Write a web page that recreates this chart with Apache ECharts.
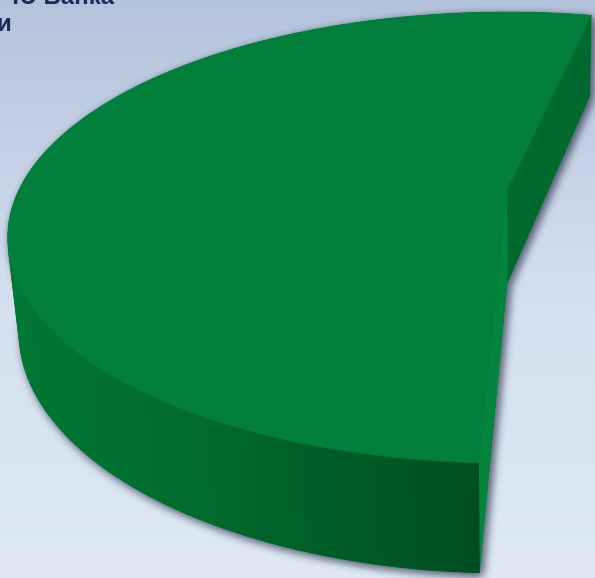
<!DOCTYPE html>
<html>
<head>
<meta charset="utf-8">
<script src="https://cdn.jsdelivr.net/npm/echarts@6.0.0/dist/echarts.min.js"></script>
<style>
html,body{margin:0;padding:0;width:595px;height:578px;overflow:hidden;background:#c8d5e8}
#chart{width:595px;height:578px}
</style>
</head>
<body>
<div id="chart"></div>
<script>
// ---------- data ----------
const sliceNames  = ['Доля Банка', 'Прочие'];
const sliceValues = [52.6, 47.4];
const titleLines  = ['Ю Банка', 'и'];

// ---------- style / camera (not data) ----------
const CAM = { ox: 507, oy: 190, f: 2078, D: 4.257, sinP: 0.4416 };
CAM.cosP = Math.sqrt(1 - CAM.sinP * CAM.sinP);
const RIM = 1, THICK = 0.218, START_ANGLE = 78;
const EXPLODE = [0, 0.8];
const SLICE_STYLE = [
  { top: '#017f3b', startWall: '#006a2e', endWall: '#04843d', wall: [0, 124, 52] },
  { top: '#1f5fa8', startWall: '#174b86', endWall: '#1a5597', wall: [24, 84, 150] }
];
// shading factor of the outer wall by angle (deg)
const SHADE = [[0,0.72],[90,0.8],[180,1.0],[215,0.94],[240,0.86],[255,0.73],[270,0.6],[300,0.6],[360,0.72]];

function shadeAt(t) {
  t = ((t % 360) + 360) % 360;
  for (let k = 0; k < SHADE.length - 1; k++) {
    const [t0, s0] = SHADE[k], [t1, s1] = SHADE[k + 1];
    if (t >= t0 && t <= t1) return s0 + (s1 - s0) * (t - t0) / (t1 - t0);
  }
  return 1;
}
function rgb(c, s) {
  return 'rgb(' + c.map(v => Math.max(0, Math.min(255, Math.round(v * s)))).join(',') + ')';
}
function proj(X, Y, Z) {
  const depth = CAM.D - Y * CAM.sinP - Z * CAM.cosP;
  const ys = Y * CAM.cosP - Z * CAM.sinP;
  return [CAM.ox + CAM.f * X / depth, CAM.oy - CAM.f * ys / depth];
}
const camPos = [0, CAM.D * CAM.sinP, CAM.D * CAM.cosP];
function facing(n, p) {
  return n[0] * (camPos[0] - p[0]) + n[1] * (camPos[1] - p[1]) + n[2] * (camPos[2] - p[2]) > 0;
}

function renderItem(params, api) {
  const i = params.dataIndex;
  const total = sliceValues.reduce((a, b) => a + b, 0);
  let a0 = START_ANGLE;
  for (let k = 0; k < i; k++) a0 += sliceValues[k] / total * 360;
  const a1 = a0 + api.value(0) / total * 360;
  const midR = (a0 + a1) / 2 * Math.PI / 180;
  const ex = EXPLODE[i] || 0;
  const off = [ex * Math.cos(midR), -ex * Math.sin(midR)];
  const st = SLICE_STYLE[i];
  const rad = t => t * Math.PI / 180;
  const P = (t, y) => proj(off[0] + RIM * Math.cos(rad(t)), y, off[1] - RIM * Math.sin(rad(t)));
  const Ct = proj(off[0], 0, off[1]);
  const Cb = proj(off[0], -THICK, off[1]);

  const n = Math.max(2, Math.ceil(a1 - a0));
  const arcTop = [], arcBot = [];
  for (let k = 0; k <= n; k++) {
    const t = a0 + (a1 - a0) * k / n;
    arcTop.push(P(t, 0));
    arcBot.push(P(t, -THICK));
  }
  const shadowStyle = { fill: st.top, shadowBlur: 10, shadowColor: 'rgba(40,50,75,0.55)', shadowOffsetX: 3, shadowOffsetY: 3 };
  const children = [];
  // shadow pass (silhouette)
  children.push({ type: 'polygon', shape: { points: [Cb].concat(arcBot) }, style: shadowStyle, silent: true });
  children.push({ type: 'polygon', shape: { points: arcTop.concat(arcBot.slice().reverse()) }, style: shadowStyle, silent: true });
  children.push({ type: 'polygon', shape: { points: [Ct, P(a0, 0), P(a0, -THICK), Cb] }, style: shadowStyle, silent: true });
  children.push({ type: 'polygon', shape: { points: [Ct, P(a1, 0), P(a1, -THICK), Cb] }, style: shadowStyle, silent: true });
  children.push({ type: 'polygon', shape: { points: [Ct].concat(arcTop) }, style: shadowStyle, silent: true });

  // radial walls
  const cMid = [off[0], -THICK / 2, off[1]];
  const nStart = [Math.cos(rad(a0 - 90)), 0, -Math.sin(rad(a0 - 90))];
  const nEnd = [Math.cos(rad(a1 + 90)), 0, -Math.sin(rad(a1 + 90))];
  if (facing(nStart, cMid)) {
    children.push({ type: 'polygon', shape: { points: [Ct, P(a0, 0), P(a0, -THICK), Cb] },
      style: { fill: st.startWall, stroke: st.startWall, lineWidth: 0.5 }, silent: true });
  }
  if (facing(nEnd, cMid)) {
    children.push({ type: 'polygon', shape: { points: [Ct, P(a1, 0), P(a1, -THICK), Cb] },
      style: { fill: st.endWall, stroke: st.endWall, lineWidth: 0.5 }, silent: true });
  }
  // outer wall, segment by segment with shading
  const step = 1.5;
  for (let t = a0; t < a1; t += step) {
    const t2 = Math.min(a1, t + step);
    const tm = (t + t2) / 2;
    const nrm = [Math.cos(rad(tm)), 0, -Math.sin(rad(tm))];
    const pm = [off[0] + RIM * nrm[0], -THICK / 2, off[1] + RIM * nrm[2]];
    if (!facing(nrm, pm)) continue;
    const col = rgb(st.wall, shadeAt(tm));
    children.push({ type: 'polygon', shape: { points: [P(t, 0), P(t2, 0), P(t2, -THICK), P(t, -THICK)] },
      style: { fill: col, stroke: col, lineWidth: 0.8 }, silent: true });
  }
  // top face
  children.push({ type: 'polygon', shape: { points: [Ct].concat(arcTop) },
    style: { fill: st.top, stroke: st.top, lineWidth: 0.5 }, silent: true });
  return { type: 'group', children: children };
}

const chart = echarts.init(document.getElementById('chart'), null, { renderer: 'canvas', width: 595, height: 578 });
chart.setOption({
  animation: false,
  graphic: [
    { type: 'rect', z: -100, silent: true, shape: { x: 0, y: 0, width: 595, height: 578 },
      style: { fill: { type: 'linear', x: 0, y: 0, x2: 0, y2: 1,
        colorStops: [{ offset: 0, color: '#b3c2db' }, { offset: 0.5, color: '#d3dfee' }, { offset: 1, color: '#dde8f4' }] } } },
    { type: 'text', z: 100, silent: true, style: { text: titleLines[0], x: 114, y: -3, align: 'right', verticalAlign: 'middle',
        font: 'bold 24px "Liberation Sans", Arial, sans-serif', fill: '#1b2a58' } },
    { type: 'text', z: 100, silent: true, style: { text: titleLines[1], x: -3, y: 24, align: 'left', verticalAlign: 'middle',
        font: 'bold 24px "Liberation Sans", Arial, sans-serif', fill: '#1b2a58' } }
  ],
  series: [{
    type: 'custom',
    coordinateSystem: 'none',
    renderItem: renderItem,
    data: sliceValues.map((v, k) => ({ name: sliceNames[k], value: [v] }))
  }]
});
</script>
</body>
</html>
